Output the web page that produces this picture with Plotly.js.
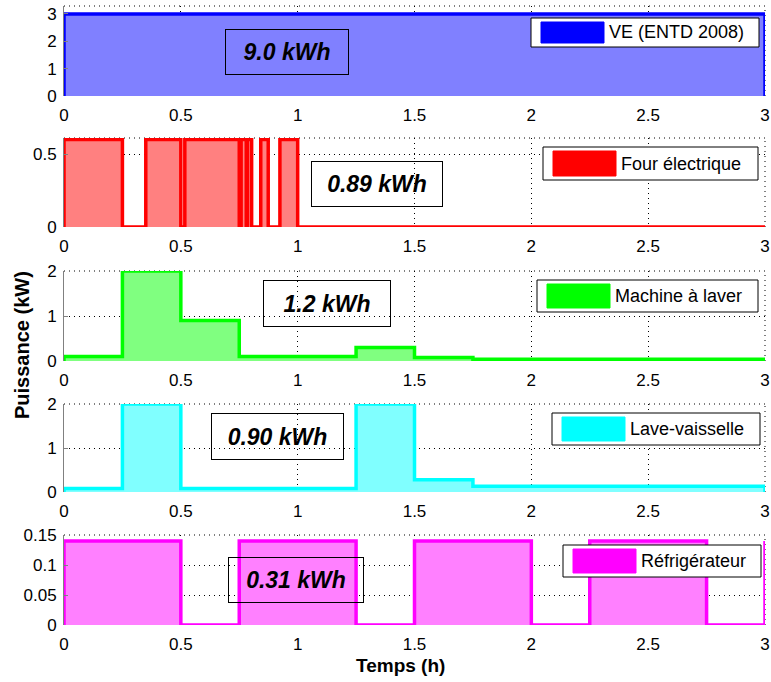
<!DOCTYPE html>
<html>
<head>
<meta charset="utf-8">
<script src="https://cdn.plot.ly/plotly-3.0.1.min.js"></script>
<style>html,body{margin:0;padding:0;background:#fff;}#chart{width:771px;height:682px;}</style>
</head>
<body>
<div id="chart"></div>
<script>
// ---- data (time in h, power in kW) ----
const seriesNames = ["VE (ENTD 2008)", "Four électrique", "Machine à laver", "Lave-vaisselle", "Réfrigérateur"];
const energyLabels = ["9.0 kWh", "0.89 kWh", "1.2 kWh", "0.90 kWh", "0.31 kWh"];
const lineColors = ["#0000ff", "#ff0000", "#00ff00", "#00ffff", "#ff00ff"];
const fillColors = ["#8080ff", "#ff8080", "#80ff80", "#80ffff", "#ff80ff"];

const tVE = [0];
const pVE = [3.0];
const tFour = [0, 0.25, 0.35, 0.5, 0.517, 0.75, 0.758, 0.78, 0.785, 0.803, 0.842, 0.874, 0.924, 1.0];
const pFour = [0.6, 0, 0.6, 0, 0.6, 0, 0.6, 0, 0.6, 0, 0.6, 0, 0.6, 0];
const tMachine = [0, 0.25, 0.5, 0.75, 1.25, 1.5, 1.75];
const pMachine = [0.1, 2.0, 0.9, 0.1, 0.3, 0.08, 0.04];
const tLave = [0, 0.25, 0.5, 1.25, 1.5, 1.75];
const pLave = [0.08, 2.0, 0.08, 2.0, 0.28, 0.13];
const tFrigo = [0, 0.5, 0.75, 1.25, 1.5, 2.0, 2.25, 2.75, 3.0];
const pFrigo = [0.14, 0, 0.14, 0, 0.14, 0, 0.14, 0, 0.14];

const xTickVals = [0, 0.5, 1, 1.5, 2, 2.5, 3];
const xTickText = ["0", "0.5", "1", "1.5", "2", "2.5", "3"];
const yTicks = [[0, 1, 2, 3], [0, 0.5], [0, 1, 2], [0, 1, 2], [0, 0.05, 0.1, 0.15]];
const yTickText = [["0", "1", "2", "3"], ["0", "0.5"], ["0", "1", "2"], ["0", "1", "2"], ["0", "0.05", "0.1", "0.15"]];
const yRanges = [[0, 3.29], [0, 0.61], [0, 2.0], [0, 2.0], [0, 0.15]];
const tEnd = 3;

const allT = [tVE, tFour, tMachine, tLave, tFrigo];
const allP = [pVE, pFour, pMachine, pLave, pFrigo];

// ---- layout geometry (pixels) ----
const W = 771, H = 682;
const plotLeft = 64, plotRight = 765;
const panelTop = [6, 138, 271, 404, 535];
const panelBottom = [96, 227, 361, 492, 625];
const legendBox = [[531, 18, 759, 47], [543, 147, 758, 180], [537, 280, 758, 312], [552, 413, 760, 445], [563, 545, 761, 577]];
const energyBox = [[225, 29, 349, 75], [311, 161, 443, 207], [263, 280, 391, 327], [211, 413, 344, 460], [228, 557, 364, 603]];

const px = v => v / W;
const py = v => 1 - v / H;
const DOT = "1px,4px";

const traces = [];
const layout = {
  width: W, height: H,
  margin: {l: 0, r: 0, t: 0, b: 0},
  paper_bgcolor: "#fff", plot_bgcolor: "#fff",
  showlegend: false,
  font: {family: "Liberation Sans, Arial, sans-serif", size: 17, color: "#000"},
  shapes: [], annotations: []
};

for (let i = 0; i < 5; i++) {
  const s = i === 0 ? "" : String(i + 1);
  // closed step outline: start at zero, end back to zero at tEnd
  const xs = [allT[i][0]].concat(allT[i]).concat([tEnd, tEnd]);
  const lastVal = allP[i][allP[i].length - 1];
  const ys = [0].concat(allP[i]).concat([lastVal, 0]);
  traces.push({
    x: xs, y: ys, xaxis: "x" + s, yaxis: "y" + s,
    type: "scatter", mode: "lines", line: {shape: "hv", color: lineColors[i], width: 3.5},
    fill: "tozeroy", fillcolor: fillColors[i], name: seriesNames[i], hoverinfo: "skip"
  });
  layout["xaxis" + s] = {
    domain: [px(plotLeft), px(plotRight)], anchor: "y" + s, range: [0, tEnd],
    tickvals: xTickVals, ticktext: xTickText, ticks: "outside", ticklen: 4, tickcolor: "rgba(0,0,0,0)",
    showgrid: true, gridcolor: "#000", griddash: DOT, gridwidth: 1,
    zeroline: false, showline: false, tickfont: {size: 17}, fixedrange: true
  };
  layout["yaxis" + s] = {
    domain: [py(panelBottom[i]), py(panelTop[i])], anchor: "x" + s, range: yRanges[i],
    tickvals: yTicks[i], ticktext: yTickText[i], ticks: "inside", ticklen: 4, tickcolor: "#808080",
    ticklabelstandoff: 3,
    showgrid: true, gridcolor: "#000", griddash: DOT, gridwidth: 1,
    zeroline: false, showline: true, linecolor: "#808080", linewidth: 1, tickfont: {size: 17}, fixedrange: true
  };
  // dotted top and right borders
  layout.shapes.push({type: "line", xref: "x" + s + " domain", yref: "y" + s + " domain", x0: 0, x1: 1, y0: 1, y1: 1, line: {color: "#000", width: 1, dash: DOT}, layer: "below"});
  layout.shapes.push({type: "line", xref: "x" + s + " domain", yref: "y" + s + " domain", x0: 1, x1: 1, y0: 0, y1: 1, line: {color: "#000", width: 1, dash: DOT}, layer: "below"});
  // legend box
  const lb = legendBox[i];
  layout.shapes.push({type: "rect", xref: "paper", yref: "paper", x0: px(lb[0]), x1: px(lb[2]), y0: py(lb[3]), y1: py(lb[1]), fillcolor: "#fff", line: {color: "#000", width: 1}, layer: "above"});
  layout.shapes.push({type: "rect", xref: "paper", yref: "paper", x0: px(lb[0] + 10), x1: px(lb[0] + 73), y0: py(lb[3] - 4), y1: py(lb[1] + 4), fillcolor: lineColors[i], line: {color: lineColors[i], width: 1}, layer: "above"});
  layout.annotations.push({xref: "paper", yref: "paper", x: px(lb[0] + 76), y: py((lb[1] + lb[3]) / 2), xanchor: "left", yanchor: "middle", text: seriesNames[i], showarrow: false, font: {size: 18, color: "#000"}});
  // energy box
  const eb = energyBox[i];
  layout.annotations.push({xref: "paper", yref: "paper", x: px((eb[0] + eb[2]) / 2), y: py((eb[1] + eb[3]) / 2), xanchor: "center", yanchor: "middle",
    text: "<b><i>" + energyLabels[i] + "</i></b>", showarrow: false, font: {size: 23, color: "#000"},
    bordercolor: "#000", borderwidth: 1, borderpad: 0, width: eb[2] - eb[0] - 2, height: eb[3] - eb[1] - 2, bgcolor: "rgba(0,0,0,0)"});
}

layout.annotations.push({xref: "paper", yref: "paper", x: px(22), y: py(345), text: "<b>Puissance (kW)</b>", textangle: -90, showarrow: false, xanchor: "center", yanchor: "middle", font: {size: 20}});
layout.annotations.push({xref: "paper", yref: "paper", x: px(400), y: py(665), text: "<b>Temps (h)</b>", showarrow: false, xanchor: "center", yanchor: "middle", font: {size: 19}});

Plotly.newPlot("chart", traces, layout, {staticPlot: true, displayModeBar: false});
</script>
</body>
</html>
